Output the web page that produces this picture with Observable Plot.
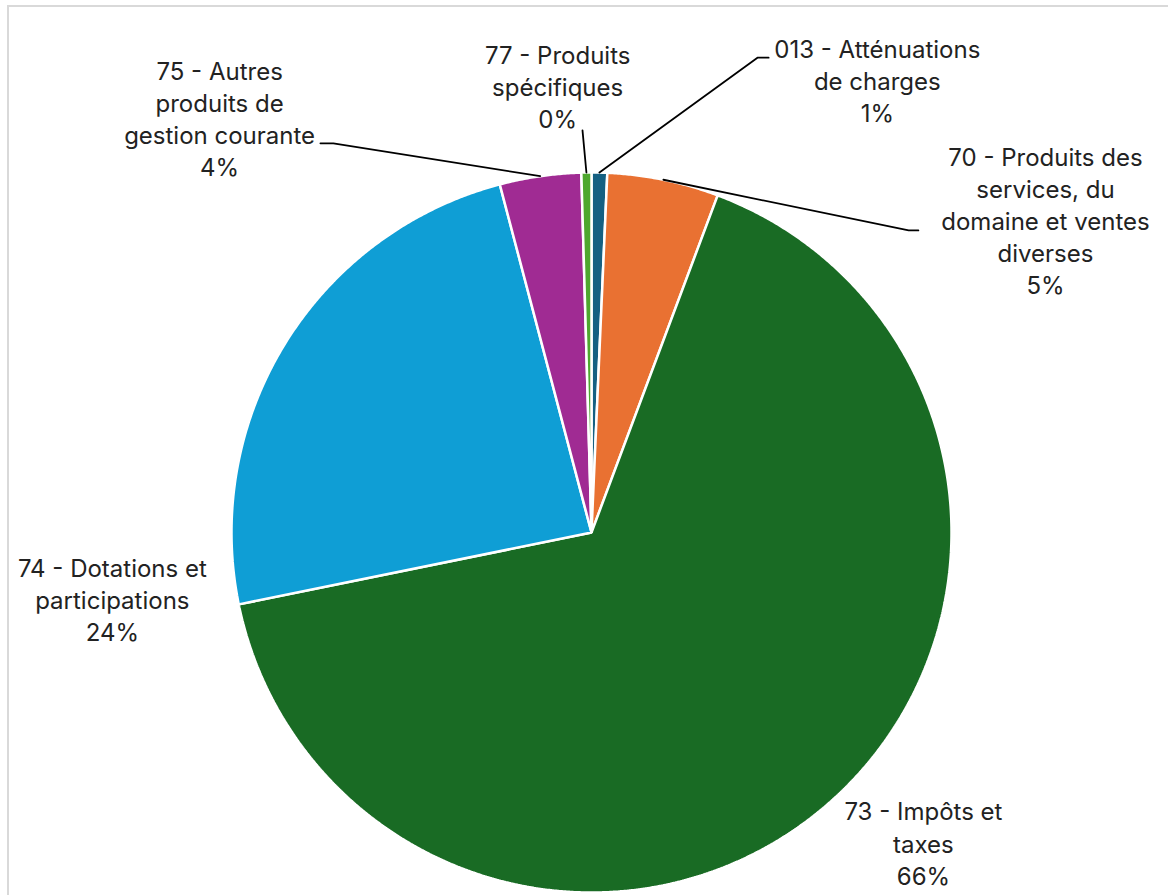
<!DOCTYPE html>
<html>
<head>
<meta charset="utf-8">
<script src="https://cdn.jsdelivr.net/npm/d3@7"></script>
<script src="https://cdn.jsdelivr.net/npm/@observablehq/plot@0.6"></script>
<style>
  html, body { margin: 0; padding: 0; background: #fff; }
  #wrap { position: relative; width: 1168px; height: 895px; overflow: hidden; }
  #frame { position: absolute; left: 7px; top: 5px; width: 1200px; height: 1000px;
           border-left: 2px solid #d9d9d9; border-top: 2px solid #d9d9d9; pointer-events: none; }
  #chart { position: absolute; left: 0; top: 0; }
</style>
</head>
<body>
<div id="wrap"><div id="chart"></div><div id="frame"></div></div>
<script>
// ---- data (order as in the source: clockwise from 12 o'clock) ----
const categories = [
  "013 - Atténuations de charges",
  "70 - Produits des services, du domaine et ventes diverses",
  "73 - Impôts et taxes",
  "74 - Dotations et participations",
  "75 - Autres produits de gestion courante",
  "77 - Produits spécifiques"
];
const shares = [0.7, 5.0, 66.1, 24.1, 3.65, 0.45];   // % of total
const labelText = [
  "013 - Atténuations\nde charges",
  "70 - Produits des\nservices, du\ndomaine et ventes\ndiverses",
  "73 - Impôts et\ntaxes",
  "74 - Dotations et\nparticipations",
  "75 - Autres\nproduits de\ngestion courante",
  "77 - Produits\nspécifiques"
];
const colors = ["#156082", "#E97132", "#196B24", "#0F9ED5", "#A02B93", "#4EA72E"];

// ---- layout (unit = pie radius, origin = pie centre) ----
const labelPos = [
  [0.794, 1.250], [1.261, 0.861], [0.922, -0.869],
  [-1.331, -0.192], [-1.033, 1.144], [-0.094, 1.233]
];
const leaderPath = [
  [[0.461, 1.319], [0.492, 1.319]],
  [[0.881, 0.839], [0.908, 0.839]],
  null,
  null,
  [[-0.717, 1.081], [-0.753, 1.081]],
  [[-0.025, 1.117]]
];

const W = 1168, H = 895, R = 360, CX = 591, CY = 532;

const total = d3.sum(shares);
const arcs = d3.pie().sort(null).startAngle(0).endAngle(2 * Math.PI)(shares);

const sliceRows = [];
arcs.forEach((a, i) => {
  sliceRows.push({key: categories[i], x: 0, y: 0});
  const n = Math.max(4, Math.ceil((a.endAngle - a.startAngle) / 0.005));
  for (let k = 0; k <= n; k++) {
    const t = a.startAngle + (a.endAngle - a.startAngle) * k / n;
    sliceRows.push({key: categories[i], x: Math.sin(t), y: Math.cos(t)});
  }
});

const leaderRows = [];
arcs.forEach((a, i) => {
  if (!leaderPath[i]) return;
  const m = (a.startAngle + a.endAngle) / 2;
  leaderRows.push({key: categories[i], x: Math.sin(m), y: Math.cos(m)});
  leaderPath[i].forEach(([x, y]) => leaderRows.push({key: categories[i], x, y}));
});

const labelRows = categories.map((c, i) => ({
  key: c,
  x: labelPos[i][0],
  y: labelPos[i][1],
  text: labelText[i] + "\n" + Math.round(shares[i] / total * 100) + "%"
}));

const chart = Plot.plot({
  width: W,
  height: H,
  margin: 0,
  x: {domain: [-CX / R, (W - CX) / R], axis: null},
  y: {domain: [(CY - H) / R, CY / R], axis: null},
  color: {domain: categories, range: colors},
  style: {background: "transparent", fontFamily: "Inter, 'Open Sans', sans-serif"},
  marks: [
    Plot.line(sliceRows, {x: "x", y: "y", z: "key", fill: "key", stroke: "white",
      strokeWidth: 2.5, strokeLinejoin: "miter", curve: "linear-closed"}),
    Plot.line(leaderRows, {x: "x", y: "y", z: "key", stroke: "#000", strokeWidth: 1.8,
      strokeLinejoin: "miter"}),
    Plot.text(labelRows, {x: "x", y: "y", text: "text", fontSize: 24, lineHeight: 1.34,
      dy: -3, fill: "#222", textAnchor: "middle"})
  ]
});
document.getElementById("chart").appendChild(chart);
</script>
</body>
</html>
